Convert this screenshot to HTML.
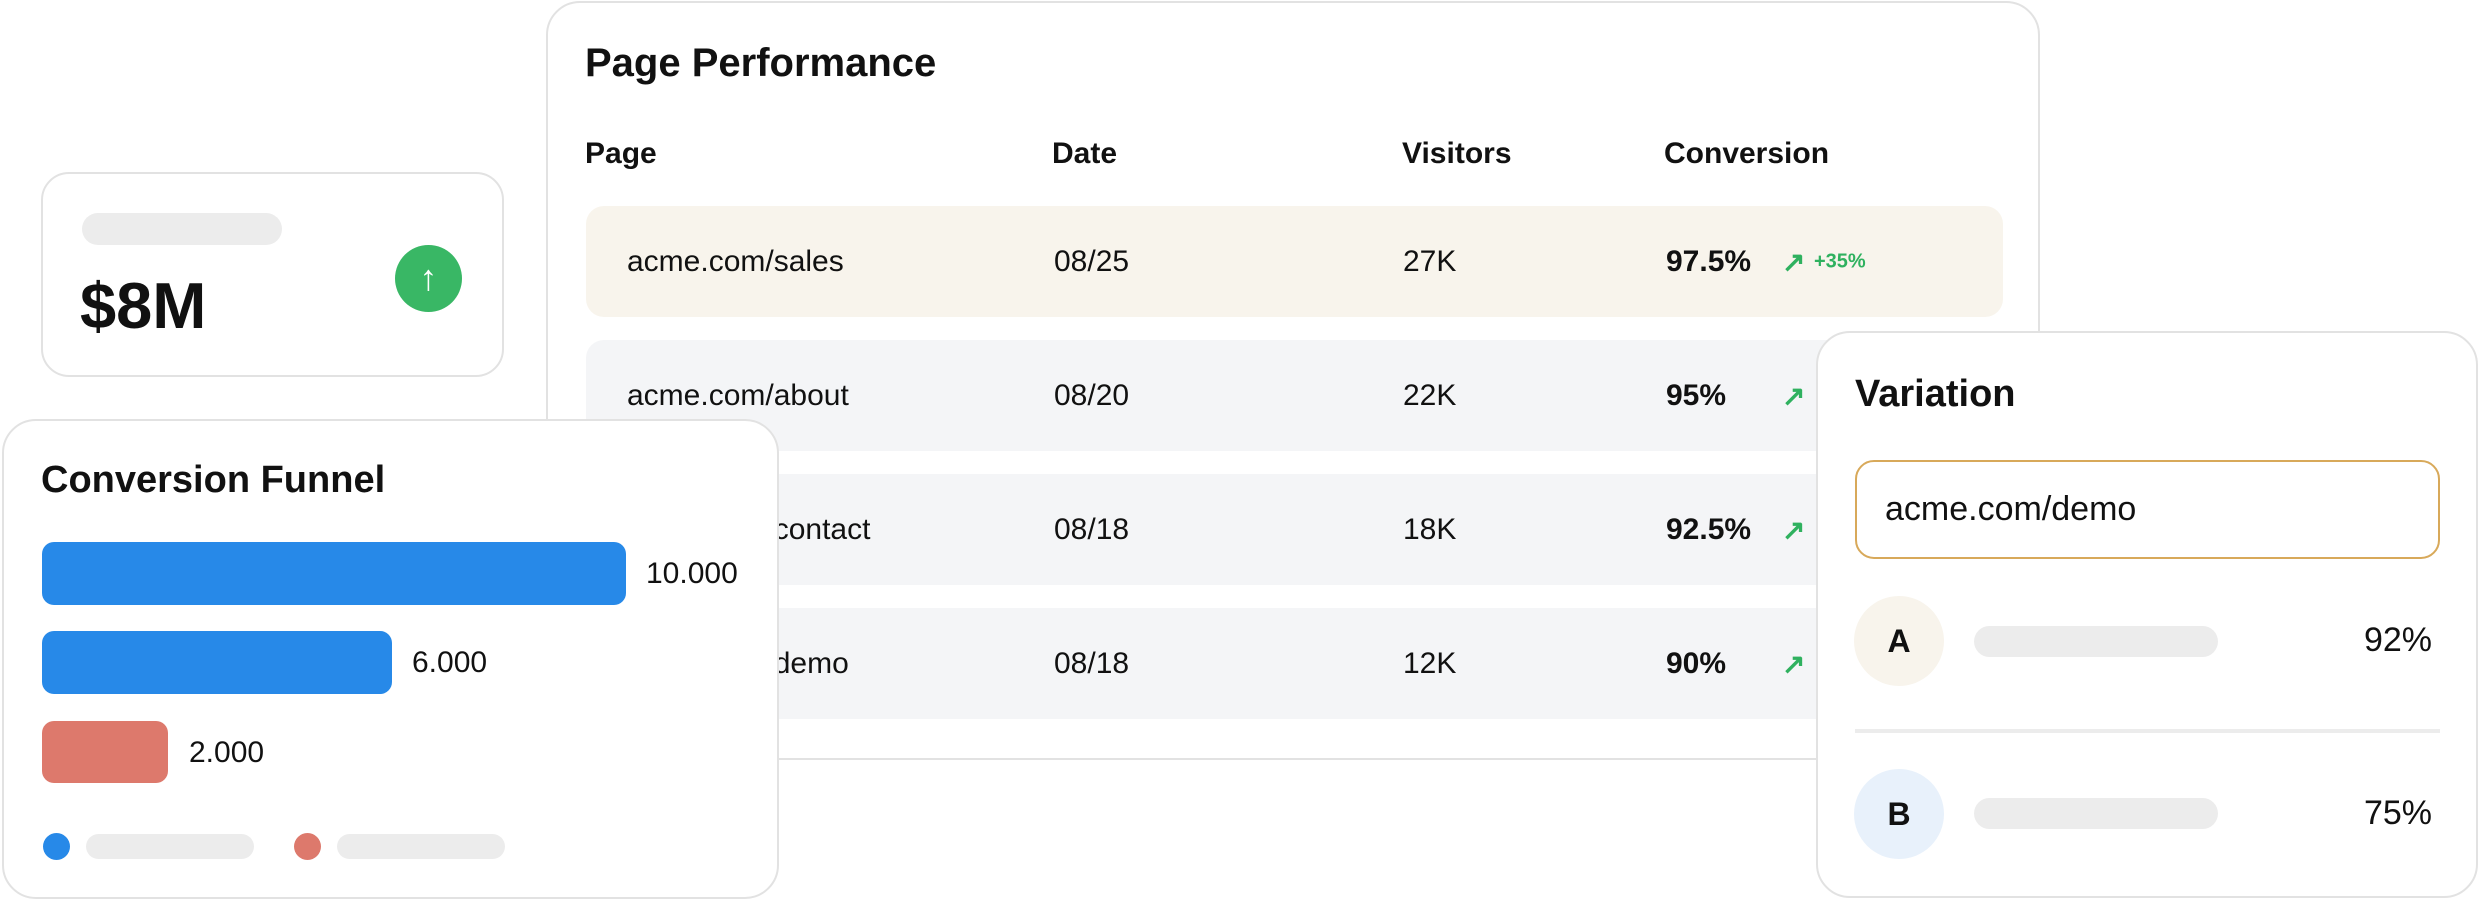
<!DOCTYPE html>
<html><head><meta charset="utf-8"><style>
*{margin:0;padding:0;box-sizing:border-box}
body{width:2480px;height:900px;background:#fff;position:relative;overflow:hidden;font-family:"Liberation Sans",sans-serif;color:#111}
.card{position:absolute;background:#fff;border:2px solid #e2e2e2;border-radius:34px}
.a{position:absolute;white-space:nowrap}
.pill{position:absolute;background:#ececec;border-radius:20px}
.row{position:absolute;left:38px;width:1417px;height:111px;border-radius:18px;background:#f4f5f7}
.row .a{top:50%;transform:translateY(-50%);font-size:30px}
.g{color:#2fb15f;font-weight:bold}
</style></head><body>

<div class="card" style="left:546px;top:1px;width:1494px;height:759px">
  <div class="a" style="left:37px;top:38px;font-size:40px;font-weight:bold">Page Performance</div>
  <div class="a" style="left:37px;top:134px;font-size:30px;font-weight:bold">Page</div>
  <div class="a" style="left:504px;top:134px;font-size:30px;font-weight:bold">Date</div>
  <div class="a" style="left:854px;top:134px;font-size:30px;font-weight:bold">Visitors</div>
  <div class="a" style="left:1116px;top:134px;font-size:30px;font-weight:bold">Conversion</div>
  <div class="row" style="top:203px;background:#f8f4ec">
    <div class="a" style="left:41px">acme.com/sales</div><div class="a" style="left:468px">08/25</div><div class="a" style="left:817px">27K</div><div class="a" style="left:1080px;font-weight:bold">97.5%</div>
    <div class="a g" style="left:1196px;font-size:28px">↗</div><div class="a g" style="left:1228px;font-size:20px">+35%</div>
  </div>
  <div class="row" style="top:337px">
    <div class="a" style="left:41px">acme.com/about</div><div class="a" style="left:468px">08/20</div><div class="a" style="left:817px">22K</div><div class="a" style="left:1080px;font-weight:bold">95%</div><div class="a g" style="left:1196px;font-size:28px">↗</div>
  </div>
  <div class="row" style="top:471px">
    <div class="a" style="left:41px">acme.com/contact</div><div class="a" style="left:468px">08/18</div><div class="a" style="left:817px">18K</div><div class="a" style="left:1080px;font-weight:bold">92.5%</div><div class="a g" style="left:1196px;font-size:28px">↗</div>
  </div>
  <div class="row" style="top:605px">
    <div class="a" style="left:41px">acme.com/demo</div><div class="a" style="left:468px">08/18</div><div class="a" style="left:817px">12K</div><div class="a" style="left:1080px;font-weight:bold">90%</div><div class="a g" style="left:1196px;font-size:28px">↗</div>
  </div>
</div>

<div class="card" style="left:41px;top:172px;width:463px;height:205px;border-radius:28px">
  <div class="pill" style="left:39px;top:39px;width:200px;height:32px"></div>
  <div class="a" style="left:37px;top:94px;font-size:65px;font-weight:bold">$8M</div>
  <div class="a" style="left:352px;top:71px;width:67px;height:67px;border-radius:50%;background:#39b765;color:#fff;font-size:36px;font-weight:bold;text-align:center;line-height:66px">↑</div>
</div>

<div class="card" style="left:2px;top:419px;width:777px;height:480px">
  <div class="a" style="left:37px;top:38px;font-size:38px;font-weight:bold">Conversion Funnel</div>
  <div class="a" style="left:38px;top:121px;width:584px;height:63px;background:#2789e8;border-radius:12px"></div>
  <div class="a" style="left:642px;top:136px;font-size:30px">10.000</div>
  <div class="a" style="left:38px;top:210px;width:350px;height:63px;background:#2789e8;border-radius:12px"></div>
  <div class="a" style="left:408px;top:225px;font-size:30px">6.000</div>
  <div class="a" style="left:38px;top:300px;width:126px;height:62px;background:#dd796c;border-radius:12px"></div>
  <div class="a" style="left:185px;top:315px;font-size:30px">2.000</div>
  <div class="a" style="left:39px;top:412px;width:27px;height:27px;border-radius:50%;background:#2789e8"></div>
  <div class="pill" style="left:82px;top:413px;width:168px;height:25px"></div>
  <div class="a" style="left:290px;top:412px;width:27px;height:27px;border-radius:50%;background:#dd796c"></div>
  <div class="pill" style="left:333px;top:413px;width:168px;height:25px"></div>
</div>

<div class="card" style="left:1816px;top:331px;width:662px;height:567px">
  <div class="a" style="left:37px;top:40px;font-size:38px;font-weight:bold">Variation</div>
  <div class="a" style="left:37px;top:127px;width:585px;height:99px;border:2px solid #d8a95a;border-radius:19px"></div>
  <div class="a" style="left:67px;top:157px;font-size:34px">acme.com/demo</div>
  <div class="a" style="left:36px;top:263px;width:90px;height:90px;border-radius:50%;background:#f8f4ec;text-align:center;line-height:90px;font-size:32px;font-weight:bold">A</div>
  <div class="pill" style="left:156px;top:293px;width:244px;height:31px"></div>
  <div class="a" style="right:44px;top:288px;font-size:34px">92%</div>
  <div class="a" style="left:37px;top:396px;width:585px;height:4px;background:#ececec"></div>
  <div class="a" style="left:36px;top:436px;width:90px;height:90px;border-radius:50%;background:#e8f1fb;text-align:center;line-height:90px;font-size:32px;font-weight:bold">B</div>
  <div class="pill" style="left:156px;top:465px;width:244px;height:31px"></div>
  <div class="a" style="right:44px;top:461px;font-size:34px">75%</div>
</div>

</body></html>
